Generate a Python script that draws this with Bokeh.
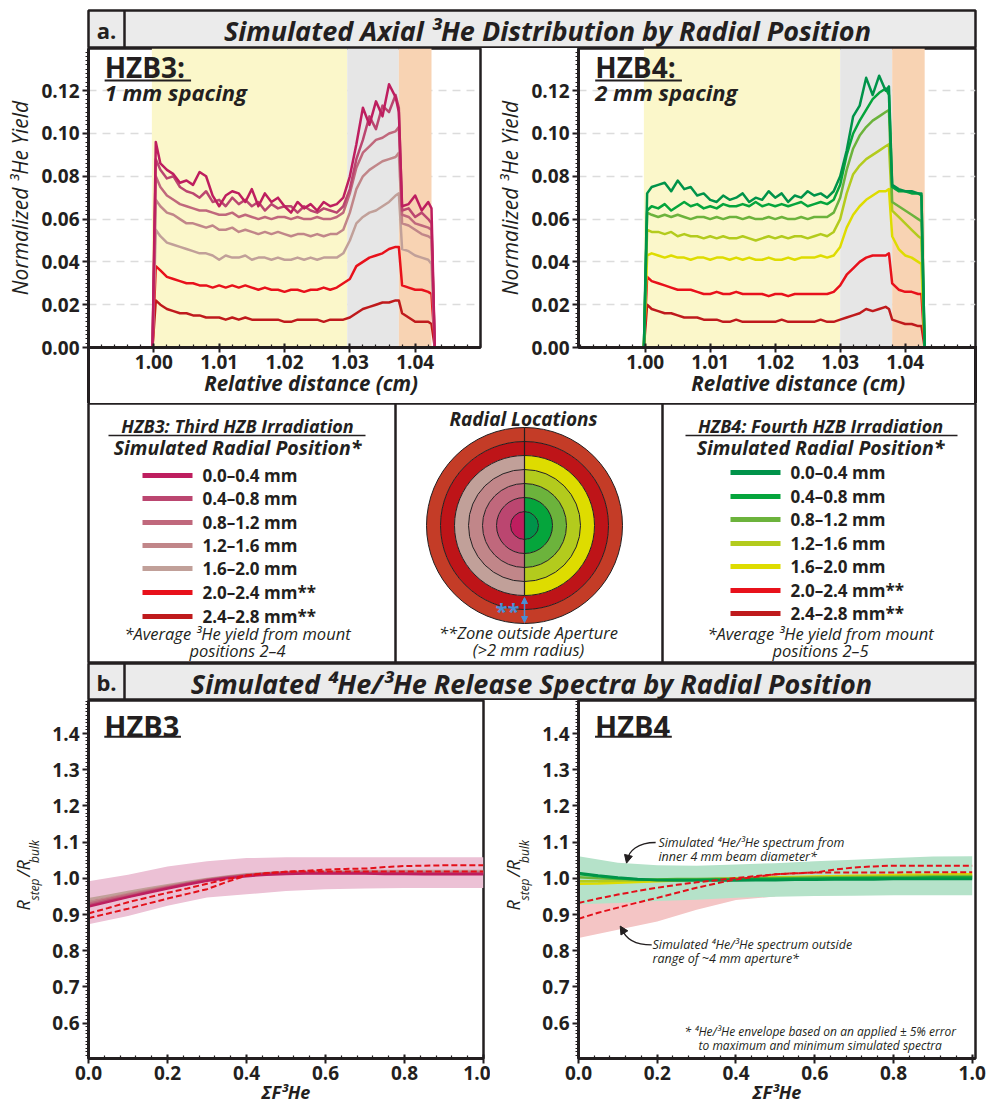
import math
from bokeh.plotting import figure
from bokeh.layouts import column, row
from bokeh.models import Range1d, FixedTicker, NumeralTickFormatter, Arrow, NormalHead, Title
from bokeh.core.properties import value
from bokeh.embed import file_html
from bokeh.resources import INLINE

FONT = "Open Sans"
INK = "#231F20"
NB = "\u00a0"

# ---------------- data: (a) axial 3He yield ----------------
x_axial = [0.9998, 1.0003, 1.001, 1.002, 1.003, 1.004, 1.005, 1.006, 1.007, 1.008, 1.009,
           1.010, 1.011, 1.012, 1.013, 1.014, 1.015, 1.016, 1.017, 1.018, 1.019, 1.020,
           1.021, 1.022, 1.023, 1.024, 1.025, 1.026, 1.027, 1.028, 1.029, 1.030, 1.031,
           1.032, 1.033, 1.034, 1.035, 1.036, 1.037, 1.0375, 1.038, 1.039, 1.040, 1.041,
           1.042, 1.0425, 1.043]

hzb3_00_04 = [0, 0.096, 0.086, 0.083, 0.081, 0.077, 0.078, 0.076, 0.082, 0.080, 0.071, 0.066, 0.071, 0.073, 0.072, 0.068, 0.074, 0.066, 0.072, 0.068, 0.070, 0.066, 0.063, 0.068, 0.065, 0.067, 0.064, 0.068, 0.066, 0.067, 0.070, 0.080, 0.095, 0.112, 0.104, 0.115, 0.108, 0.123, 0.117, 0.110, 0.066, 0.067, 0.071, 0.064, 0.068, 0.065, 0]
hzb3_04_08 = [0, 0.088, 0.083, 0.079, 0.080, 0.075, 0.073, 0.072, 0.070, 0.073, 0.068, 0.069, 0.066, 0.070, 0.067, 0.069, 0.066, 0.068, 0.064, 0.067, 0.065, 0.066, 0.066, 0.063, 0.066, 0.064, 0.063, 0.065, 0.064, 0.063, 0.066, 0.074, 0.088, 0.097, 0.108, 0.102, 0.113, 0.110, 0.118, 0.112, 0.064, 0.065, 0.061, 0.063, 0.060, 0.058, 0]
hzb3_08_12 = [0, 0.080, 0.075, 0.071, 0.069, 0.067, 0.066, 0.065, 0.064, 0.064, 0.063, 0.062, 0.062, 0.063, 0.061, 0.062, 0.061, 0.060, 0.061, 0.060, 0.061, 0.061, 0.060, 0.061, 0.060, 0.060, 0.061, 0.060, 0.060, 0.061, 0.063, 0.072, 0.084, 0.091, 0.094, 0.097, 0.098, 0.100, 0.101, 0.103, 0.062, 0.061, 0.058, 0.057, 0.056, 0.055, 0]
hzb3_12_16 = [0, 0.069, 0.066, 0.063, 0.062, 0.060, 0.058, 0.058, 0.057, 0.056, 0.057, 0.055, 0.055, 0.056, 0.054, 0.055, 0.054, 0.053, 0.054, 0.053, 0.054, 0.053, 0.052, 0.053, 0.053, 0.052, 0.053, 0.052, 0.053, 0.053, 0.055, 0.063, 0.074, 0.080, 0.083, 0.085, 0.087, 0.088, 0.089, 0.091, 0.058, 0.057, 0.055, 0.053, 0.052, 0.051, 0]
hzb3_16_20 = [0, 0.055, 0.052, 0.049, 0.048, 0.047, 0.046, 0.045, 0.044, 0.044, 0.043, 0.041, 0.043, 0.042, 0.042, 0.043, 0.041, 0.042, 0.042, 0.041, 0.042, 0.041, 0.041, 0.042, 0.041, 0.042, 0.041, 0.042, 0.042, 0.042, 0.044, 0.050, 0.058, 0.061, 0.063, 0.064, 0.066, 0.068, 0.071, 0.072, 0.046, 0.045, 0.043, 0.042, 0.041, 0.039, 0]
hzb3_20_24 = [0, 0.038, 0.036, 0.033, 0.032, 0.031, 0.030, 0.030, 0.029, 0.029, 0.028, 0.029, 0.028, 0.029, 0.028, 0.029, 0.028, 0.027, 0.028, 0.027, 0.027, 0.026, 0.027, 0.027, 0.026, 0.027, 0.027, 0.028, 0.027, 0.028, 0.030, 0.032, 0.038, 0.040, 0.042, 0.043, 0.044, 0.046, 0.047, 0.047, 0.029, 0.028, 0.027, 0.027, 0.026, 0.025, 0]
hzb3_24_28 = [0, 0.022, 0.020, 0.018, 0.017, 0.016, 0.016, 0.015, 0.015, 0.014, 0.014, 0.014, 0.013, 0.014, 0.013, 0.014, 0.013, 0.013, 0.013, 0.013, 0.013, 0.012, 0.012, 0.013, 0.013, 0.013, 0.013, 0.012, 0.013, 0.013, 0.013, 0.014, 0.016, 0.018, 0.019, 0.020, 0.021, 0.021, 0.022, 0.022, 0.016, 0.014, 0.012, 0.012, 0.012, 0.011, 0]

hzb4_00_04 = [0, 0.072, 0.075, 0.076, 0.077, 0.073, 0.078, 0.074, 0.075, 0.071, 0.072, 0.069, 0.068, 0.071, 0.069, 0.070, 0.072, 0.068, 0.070, 0.069, 0.073, 0.070, 0.072, 0.068, 0.071, 0.070, 0.073, 0.071, 0.072, 0.070, 0.073, 0.080, 0.092, 0.108, 0.113, 0.126, 0.118, 0.127, 0.120, 0.122, 0.076, 0.074, 0.073, 0.073, 0.072, 0.072, 0]
hzb4_04_08 = [0, 0.064, 0.066, 0.065, 0.067, 0.064, 0.066, 0.068, 0.066, 0.067, 0.065, 0.066, 0.065, 0.067, 0.066, 0.066, 0.067, 0.066, 0.068, 0.066, 0.067, 0.066, 0.067, 0.066, 0.067, 0.068, 0.066, 0.067, 0.068, 0.067, 0.069, 0.076, 0.090, 0.100, 0.106, 0.111, 0.116, 0.119, 0.121, 0.118, 0.075, 0.073, 0.073, 0.072, 0.072, 0.071, 0]
hzb4_08_12 = [0, 0.063, 0.062, 0.061, 0.062, 0.061, 0.062, 0.061, 0.060, 0.061, 0.061, 0.060, 0.061, 0.060, 0.061, 0.061, 0.060, 0.061, 0.060, 0.060, 0.061, 0.060, 0.061, 0.060, 0.060, 0.061, 0.060, 0.061, 0.061, 0.061, 0.063, 0.070, 0.083, 0.093, 0.099, 0.103, 0.106, 0.108, 0.110, 0.111, 0.068, 0.066, 0.064, 0.062, 0.060, 0.059, 0]
hzb4_12_16 = [0, 0.055, 0.054, 0.054, 0.053, 0.054, 0.052, 0.053, 0.052, 0.052, 0.051, 0.052, 0.051, 0.052, 0.051, 0.051, 0.052, 0.051, 0.050, 0.051, 0.052, 0.051, 0.052, 0.051, 0.052, 0.052, 0.051, 0.052, 0.053, 0.052, 0.054, 0.060, 0.072, 0.081, 0.085, 0.088, 0.090, 0.092, 0.094, 0.095, 0.064, 0.061, 0.058, 0.055, 0.052, 0.051, 0]
hzb4_16_20 = [0, 0.043, 0.044, 0.043, 0.042, 0.043, 0.042, 0.042, 0.041, 0.042, 0.042, 0.041, 0.042, 0.042, 0.041, 0.042, 0.041, 0.042, 0.041, 0.041, 0.042, 0.041, 0.041, 0.042, 0.041, 0.042, 0.042, 0.042, 0.043, 0.042, 0.043, 0.047, 0.056, 0.062, 0.066, 0.069, 0.071, 0.073, 0.073, 0.074, 0.052, 0.046, 0.043, 0.042, 0.040, 0.039, 0]
hzb4_20_24 = [0, 0.033, 0.031, 0.030, 0.029, 0.028, 0.027, 0.027, 0.027, 0.026, 0.025, 0.025, 0.026, 0.025, 0.025, 0.026, 0.025, 0.025, 0.025, 0.025, 0.024, 0.025, 0.025, 0.024, 0.025, 0.025, 0.025, 0.025, 0.025, 0.025, 0.026, 0.029, 0.034, 0.037, 0.040, 0.042, 0.043, 0.043, 0.043, 0.044, 0.030, 0.027, 0.026, 0.026, 0.025, 0.025, 0]
hzb4_24_28 = [0, 0.020, 0.018, 0.017, 0.016, 0.016, 0.015, 0.014, 0.014, 0.014, 0.013, 0.013, 0.013, 0.012, 0.012, 0.013, 0.012, 0.012, 0.012, 0.012, 0.012, 0.012, 0.013, 0.012, 0.012, 0.012, 0.012, 0.012, 0.013, 0.012, 0.012, 0.013, 0.014, 0.015, 0.016, 0.018, 0.017, 0.018, 0.019, 0.018, 0.013, 0.012, 0.011, 0.011, 0.010, 0.010, 0]

# zone edges (start of sample, start of gray zone, start of orange zone, end)
zones_hzb3 = [0.9997, 1.0296, 1.0375, 1.0425]
zones_hzb4 = [0.9998, 1.0300, 1.0380, 1.0430]

radial_labels = ["0.0–0.4 mm", "0.4–0.8 mm", "0.8–1.2 mm", "1.2–1.6 mm",
                 "1.6–2.0 mm", "2.0–2.4 mm**", "2.4–2.8 mm**"]
ring_radii_mm = [0.4, 0.8, 1.2, 1.6, 2.0, 2.4, 2.8]

colors_hzb3 = ["#BE1E5F", "#BB4670", "#C0687C", "#C18689", "#C1A099", "#E8111B", "#BF1A1C"]
colors_hzb4 = ["#00934A", "#05A53C", "#6CB33C", "#B3CB1D", "#DEDC00", "#E8111B", "#BF1A1C"]
ring_outer_colors = ["#BE1418", "#C43C27"]

axial_xticks = [1.00, 1.01, 1.02, 1.03, 1.04]
axial_yticks = [0.00, 0.02, 0.04, 0.06, 0.08, 0.10, 0.12]

# ---------------- data: (b) release spectra ----------------
f3he = [0.0, 0.05, 0.1, 0.15, 0.2, 0.25, 0.3, 0.35, 0.4, 0.45, 0.5, 0.55, 0.6, 0.65,
        0.7, 0.75, 0.8, 0.85, 0.9, 0.95, 1.0]
r3_00_04 = [0.922, 0.935, 0.948, 0.960, 0.972, 0.983, 0.993, 1.000, 1.006, 1.010, 1.012, 1.013, 1.013, 1.013, 1.013, 1.012, 1.012, 1.011, 1.011, 1.011, 1.011]
r3_04_08 = [0.925, 0.938, 0.950, 0.962, 0.974, 0.985, 0.995, 1.002, 1.008, 1.012, 1.014, 1.015, 1.015, 1.015, 1.015, 1.014, 1.014, 1.013, 1.013, 1.013, 1.013]
r3_08_12 = [0.930, 0.942, 0.954, 0.965, 0.976, 0.986, 0.996, 1.003, 1.009, 1.013, 1.015, 1.016, 1.016, 1.016, 1.016, 1.016, 1.015, 1.015, 1.015, 1.015, 1.015]
r3_12_16 = [0.935, 0.946, 0.957, 0.968, 0.978, 0.988, 0.997, 1.004, 1.010, 1.014, 1.016, 1.017, 1.017, 1.017, 1.018, 1.018, 1.018, 1.017, 1.017, 1.017, 1.017]
r3_16_20 = [0.942, 0.952, 0.962, 0.972, 0.981, 0.990, 0.998, 1.005, 1.011, 1.015, 1.017, 1.018, 1.019, 1.019, 1.020, 1.020, 1.020, 1.020, 1.020, 1.020, 1.020]
r3_20_24 = [0.903, 0.918, 0.934, 0.947, 0.960, 0.972, 0.985, 0.998, 1.008, 1.014, 1.018, 1.019, 1.019, 1.019, 1.019, 1.019, 1.019, 1.019, 1.019, 1.019, 1.019]
r3_24_28 = [0.890, 0.903, 0.916, 0.930, 0.944, 0.957, 0.970, 0.990, 1.008, 1.014, 1.018, 1.021, 1.024, 1.026, 1.027, 1.031, 1.034, 1.035, 1.036, 1.036, 1.036]

r4_00_04 = [1.015, 1.008, 1.002, 0.998, 0.995, 0.994, 0.994, 0.994, 0.994, 0.995, 0.995, 0.996, 0.996, 0.997, 0.997, 0.997, 0.998, 0.998, 0.998, 0.998, 0.998]
r4_04_08 = [1.012, 1.006, 1.000, 0.997, 0.996, 0.996, 0.996, 0.997, 0.997, 0.998, 0.998, 0.999, 0.999, 1.000, 1.000, 1.001, 1.001, 1.001, 1.002, 1.002, 1.002]
r4_08_12 = [1.003, 1.000, 0.998, 0.997, 0.997, 0.998, 0.998, 0.999, 0.999, 1.000, 1.001, 1.001, 1.002, 1.002, 1.003, 1.003, 1.004, 1.004, 1.005, 1.005, 1.005]
r4_12_16 = [0.992, 0.992, 0.993, 0.994, 0.995, 0.996, 0.997, 0.998, 0.999, 1.000, 1.001, 1.002, 1.003, 1.004, 1.005, 1.006, 1.006, 1.007, 1.007, 1.008, 1.008]
r4_16_20 = [0.985, 0.986, 0.988, 0.990, 0.992, 0.994, 0.996, 0.998, 1.000, 1.001, 1.003, 1.004, 1.005, 1.006, 1.007, 1.008, 1.009, 1.010, 1.010, 1.011, 1.011]
r4_20_24 = [0.932, 0.944, 0.955, 0.965, 0.974, 0.982, 0.989, 0.995, 1.001, 1.006, 1.011, 1.014, 1.016, 1.024, 1.030, 1.033, 1.035, 1.035, 1.035, 1.035, 1.035]
r4_24_28 = [0.888, 0.905, 0.919, 0.933, 0.946, 0.960, 0.974, 0.986, 0.997, 1.004, 1.011, 1.014, 1.016, 1.016, 1.016, 1.016, 1.016, 1.017, 1.017, 1.017, 1.017]

env_x = [0.0, 0.1, 0.2, 0.3, 0.4, 0.5, 0.6, 0.7, 0.8, 0.9, 1.0]
env3_hi = [0.992, 1.010, 1.033, 1.047, 1.056, 1.058, 1.058, 1.058, 1.058, 1.058, 1.058]
env3_lo = [0.873, 0.896, 0.924, 0.947, 0.956, 0.965, 0.970, 0.972, 0.973, 0.973, 0.973]
env4_hi = [1.061, 1.043, 1.036, 1.035, 1.038, 1.042, 1.047, 1.051, 1.056, 1.060, 1.061]
env4_lo = [0.928, 0.932, 0.937, 0.941, 0.946, 0.949, 0.951, 0.952, 0.953, 0.953, 0.953]
env4out_x = [0.0, 0.1, 0.2, 0.3, 0.4, 0.5]
env4out_hi = [0.950, 0.950, 0.950, 0.950, 0.952, 0.955]
env4out_lo = [0.835, 0.858, 0.881, 0.913, 0.940, 0.950]

spec_xticks = [0.0, 0.2, 0.4, 0.6, 0.8, 1.0]
spec_yticks = [0.6, 0.7, 0.8, 0.9, 1.0, 1.1, 1.2, 1.3, 1.4]

hzb3_series = [hzb3_00_04, hzb3_04_08, hzb3_08_12, hzb3_12_16, hzb3_16_20, hzb3_20_24, hzb3_24_28]
hzb4_series = [hzb4_00_04, hzb4_04_08, hzb4_08_12, hzb4_12_16, hzb4_16_20, hzb4_20_24, hzb4_24_28]
r3_series = [r3_00_04, r3_04_08, r3_08_12, r3_12_16, r3_16_20, r3_20_24, r3_24_28]
r4_series = [r4_00_04, r4_04_08, r4_08_12, r4_12_16, r4_16_20, r4_20_24, r4_24_28]
for s in hzb3_series + hzb4_series:
    assert len(s) == len(x_axial), len(s)
for s in r3_series + r4_series:
    assert len(s) == len(f3he), len(s)


# ---------------- helpers ----------------
def base_fig(w, h, xr, yr, bl, br, bt, bb, axes=True):
    kw = {} if axes else dict(x_axis_location=None, y_axis_location=None)
    p = figure(width=w, height=h, x_range=Range1d(*xr), y_range=Range1d(*yr),
               output_backend="svg", toolbar_location=None, title=None,
               min_border_left=bl, min_border_right=br, min_border_top=bt,
               min_border_bottom=bb, **kw)
    p.outline_line_color = INK
    p.outline_line_width = 2.5
    p.grid.visible = False
    p.background_fill_color = "white"
    p.border_fill_color = "white"
    return p


def T(p, x, y, s, size, style="normal", align="left", base="middle", color=INK, angle=0.0):
    p.text(x=[x], y=[y], text=[s], text_font=value(FONT), text_font_size=value(size),
           text_font_style=value(style), text_align=value(align),
           text_baseline=value(base), text_color=color, angle=angle)


def style_axes(p, xt, xm, xfmt, yt, ym, yfmt, xlabel, ylabel, tsize, xlsize, ylsize):
    xa, ya = p.xaxis[0], p.yaxis[0]
    xa.ticker = FixedTicker(ticks=xt, minor_ticks=xm)
    ya.ticker = FixedTicker(ticks=yt, minor_ticks=ym)
    xa.formatter = NumeralTickFormatter(format=xfmt)
    ya.formatter = NumeralTickFormatter(format=yfmt)
    for a in (xa, ya):
        a.axis_line_width = 3
        a.axis_line_color = INK
        a.major_tick_line_width = 2
        a.major_tick_line_color = INK
        a.minor_tick_line_width = 1.2
        a.minor_tick_line_color = INK
        a.major_label_text_font = FONT
        a.major_label_text_font_style = "bold"
        a.major_label_text_font_size = tsize
        a.major_label_text_color = INK
        a.axis_label_text_font = FONT
        a.axis_label_text_color = INK
    xa.major_tick_in = 4
    xa.major_tick_out = 5
    xa.minor_tick_in = 3
    xa.minor_tick_out = 0
    ya.major_tick_in = 0
    ya.major_tick_out = 6
    ya.minor_tick_in = 0
    ya.minor_tick_out = 3
    xa.major_label_standoff = 2
    xa.axis_label_standoff = -3
    ya.major_label_standoff = 3
    ya.axis_label_standoff = 4
    xa.axis_label = xlabel
    xa.axis_label_text_font_style = "bold italic"
    xa.axis_label_text_font_size = xlsize
    if ylabel:
        ya.axis_label = ylabel
        ya.axis_label_text_font_style = "italic"
        ya.axis_label_text_font_size = ylsize


# ---------------- header (a) ----------------
HA = base_fig(995, 48, (0, 887), (0, 38), 88, 20, 10, 0, axes=False)
HA.background_fill_color = "#EBEBEB"
HA.segment(x0=[36], y0=[0], x1=[36], y1=[38], line_color=INK, line_width=2.5)
T(HA, 18, 19, "a.", "22px", "bold", "center")
T(HA, 459, 18, "Simulated Axial ³He Distribution by Radial Position", "27px", "bold italic", "center")

# ---------------- axial plots ----------------
YTOP = 0.1397
ax_minor_x = [round(0.990 + 0.002 * i, 4) for i in range(31)]
ax_minor_y = [round(0.002 * i, 4) for i in range(70)]


def axial_plot(w, br, xr, zones, series, colors, tag, spacing, tag_x, ul_x1, edge_px, pad):
    p = base_fig(w, 355, xr, (0, YTOP), 88, br, 0, 56)
    p.border_fill_color = None
    # outer panel border continuing below the plot frame (drawn behind the transparent border)
    p.styles = {"background-image": "linear-gradient(#231F20, #231F20)",
                "background-size": "3px 58px",
                "background-position": f"{edge_px}px 298px",
                "background-repeat": "no-repeat"}
    style_axes(p, axial_xticks, ax_minor_x, "0.00", axial_yticks, ax_minor_y, "0.00",
               NB * pad + "Relative distance (cm)", "Normalized ³He Yield", "19px", "20.5px", "21px")
    p.ygrid.visible = True
    p.ygrid.ticker = FixedTicker(ticks=axial_yticks[1:])
    p.ygrid.grid_line_color = "#DCDCDC"
    p.ygrid.grid_line_width = 1.5
    p.ygrid.grid_line_dash = "8 6"
    p.quad(left=zones[:-1], right=zones[1:], bottom=0, top=YTOP,
           fill_color=["#FBF7CA", "#E6E6E6", "#F8D3B3"], line_color=None)
    for s, c in reversed(list(zip(series, colors))):
        p.line(x_axial, s, line_color=c, line_width=2.5, line_join="round")
    T(p, tag_x, 0.1312, tag, "28px", "bold")
    p.segment(x0=[tag_x], y0=[0.1247], x1=[ul_x1], y1=[0.1247], line_color=INK, line_width=2)
    T(p, tag_x, 0.1194, spacing, "22px", "bold italic")
    return p


P1 = axial_plot(490, 10, (0.9900, 1.0500), zones_hzb3, hzb3_series, colors_hzb3,
                "HZB3:", "1 mm spacing", 0.99247, 1.00570, 87, 10)
P2 = axial_plot(505, 20, (0.98974, 1.05082), zones_hzb4, hzb4_series, colors_hzb4,
                "HZB4:", "2 mm spacing", 0.99231, 1.00565, 484, 8)

# ---------------- legend row ----------------
LEG = base_fig(995, 260, (0, 887), (0, 260), 88, 20, 0, 0, axes=False)
LEG.segment(x0=[307, 574], y0=[0, 0], x1=[307, 574], y1=[260, 260], line_color=INK, line_width=2.5)


def legend_box(cx, title1, title2, ul, line_x0, rows, colors, foot2):
    T(LEG, cx, 238, title1, "18px", "bold italic", "center")
    LEG.segment(x0=[ul[0]], y0=[228], x1=[ul[1]], y1=[228], line_color=INK, line_width=1.3)
    T(LEG, cx, 216, title2, "19.5px", "bold italic", "center")
    LEG.segment(x0=[line_x0] * 7, y0=rows, x1=[line_x0 + 50] * 7, y1=rows,
                line_color=colors, line_width=5)
    LEG.text(x=[line_x0 + 60] * 7, y=rows, text=radial_labels, text_font=value(FONT),
             text_font_size=value("17px"), text_font_style=value("bold"),
             text_baseline=value("middle"), text_color=INK)
    T(LEG, cx, 30, "*Average ³He yield from mount", "16.5px", "italic", "center")
    T(LEG, cx, 13, foot2, "16.5px", "italic", "center")


legend_box(149, "HZB3: Third HZB Irradiation", "Simulated Radial Position*", (20, 277), 54,
           [188, 165, 141, 118, 95, 71, 47], colors_hzb3, "positions 2–4")
legend_box(732, "HZB4: Fourth HZB Irradiation", "Simulated Radial Position*", (597, 869), 642,
           [191, 167, 144, 120, 97, 73, 50], colors_hzb4, "positions 2–5")

# radial-location diagram
PX_PER_MM = 35.0
CX, CY = 436, 138
r_px = [r * PX_PER_MM for r in ring_radii_mm]
r_in = [0.0] + r_px[:-1]
LEG.annular_wedge(x=CX, y=CY, inner_radius=r_in[5:], outer_radius=r_px[5:],
                  start_angle=0, end_angle=2 * math.pi, fill_color=ring_outer_colors, line_color=None)
LEG.annular_wedge(x=CX, y=CY, inner_radius=r_in[:5], outer_radius=r_px[:5],
                  start_angle=math.pi / 2, end_angle=3 * math.pi / 2,
                  fill_color=colors_hzb3[:5], line_color=None)
LEG.annular_wedge(x=CX, y=CY, inner_radius=r_in[:5], outer_radius=r_px[:5],
                  start_angle=-math.pi / 2, end_angle=math.pi / 2,
                  fill_color=colors_hzb4[:5], line_color=None)
LEG.circle(x=[CX] * 7, y=[CY] * 7, radius=r_px, fill_color=None, line_color=INK, line_width=1)
LEG.segment(x0=[CX], y0=[CY + r_px[6]], x1=[CX], y1=[CY - r_px[4]], line_color=INK, line_width=1.2)
BLUE = "#4A8FD4"
LEG.add_layout(Arrow(start=NormalHead(size=6, fill_color=BLUE, line_color=BLUE),
                     end=NormalHead(size=6, fill_color=BLUE, line_color=BLUE),
                     x_start=CX, y_start=CY - r_px[4] - 2, x_end=CX, y_end=CY - r_px[6] + 1,
                     line_color=BLUE, line_width=1.5))
T(LEG, CX - 17, 54, "**", "22px", "bold", "center", color=BLUE)
T(LEG, 435, 245, "Radial Locations", "19px", "bold italic", "center")
T(LEG, 440, 31, "**Zone outside Aperture", "16.5px", "italic", "center")
T(LEG, 440, 14, "(>2 mm radius)", "16.5px", "italic", "center")

# ---------------- header (b) ----------------
HB = base_fig(995, 37, (0, 887), (0, 37), 88, 20, 0, 0, axes=False)
HB.background_fill_color = "#EBEBEB"
HB.segment(x0=[36], y0=[0], x1=[36], y1=[37], line_color=INK, line_width=2.5)
T(HB, 18, 18.5, "b.", "22px", "bold", "center")
T(HB, 443, 17.5, "Simulated ⁴He/³He Release Spectra by Radial Position", "27px", "bold italic", "center")

# ---------------- release spectra ----------------
YR = (0.502, 1.4915)
sp_minor_x = [round(0.04 * i, 3) for i in range(26)]
sp_minor_y = [round(0.5 + 0.01 * i, 3) for i in range(100)]


def spectra_plot(w, br, xend, tag, tag_x, ul_x1):
    p = base_fig(w, 406, (0, xend), YR, 88, br, 0, 46)
    style_axes(p, spec_xticks, sp_minor_x, "0.0", spec_yticks, sp_minor_y, "0.0",
               "ΣF³He", None, "19px", "18px", "17px")
    T(p, tag_x, 1.423, tag, "29px", "bold")
    p.segment(x0=[tag_x], y0=[1.391], x1=[ul_x1], y1=[1.391], line_color=INK, line_width=2)
    # y-axis label R_step / R_bulk built from two vertical title strips
    sub = Title(text="step" + NB * 5 + "bulk", align="left", offset=158, standoff=14,
                text_font=FONT, text_font_style="italic", text_font_size="12px",
                text_color=INK)
    main = Title(text="R" + NB * 5 + "/R", align="left", offset=148, standoff=-36,
                 text_font=FONT, text_font_style="italic", text_font_size="18px",
                 text_color=INK)
    p.add_layout(sub, "left")
    p.add_layout(main, "left")
    return p


P3 = spectra_plot(490, 7, 1.0, "HZB3", 0.040, 0.234)
P3.varea(x=env_x, y1=env3_lo, y2=env3_hi, fill_color="#ECC1D5")
for s, c in reversed(list(zip(r3_series[:5], colors_hzb3[:5]))):
    P3.line(f3he, s, line_color=c, line_width=2.5)
for s in r3_series[5:]:
    P3.line(f3he, s, line_color="#E3101A", line_width=2, line_dash="6 3")

P4 = spectra_plot(505, 20, 1.0084, "HZB4", 0.042, 0.237)
P4.varea(x=env4out_x, y1=env4out_lo, y2=env4out_hi, fill_color="#F4C5C5")
P4.varea(x=env_x, y1=env4_lo, y2=env4_hi, fill_color="#B5E2C9")
for s, c in reversed(list(zip(r4_series[:5], colors_hzb4[:5]))):
    P4.line(f3he, s, line_color=c, line_width=2.5)
for s in r4_series[5:]:
    P4.line(f3he, s, line_color="#E3101A", line_width=2, line_dash="6 3")

# annotations
P4.bezier(x0=[0.196, 0.186], y0=[1.099, 0.816], x1=[0.124, 0.110], y1=[1.050, 0.862],
          cx0=[0.150, 0.140], cy0=[1.099, 0.816], cx1=[0.127, 0.118], cy1=[1.075, 0.835],
          line_color=INK, line_width=1.3)
P4.add_layout(Arrow(end=NormalHead(size=8, fill_color=INK, line_color=INK),
                    x_start=0.126, y_start=1.060, x_end=0.122, y_end=1.042,
                    line_color=INK, line_width=1.3))
P4.add_layout(Arrow(end=NormalHead(size=8, fill_color=INK, line_color=INK),
                    x_start=0.116, y_start=0.850, x_end=0.106, y_end=0.868,
                    line_color=INK, line_width=1.3))
T(P4, 0.203, 1.099, "Simulated ⁴He/³He spectrum from", "12.5px", "italic")
T(P4, 0.203, 1.061, "inner 4 mm beam diameter*", "12.5px", "italic")
T(P4, 0.188, 0.816, "Simulated ⁴He/³He spectrum outside", "12.5px", "italic")
T(P4, 0.188, 0.779, "range of ~4 mm aperture*", "12.5px", "italic")
T(P4, 0.614, 0.577, "* ⁴He/³He envelope based on an applied ± 5% error", "12px", "italic", "center")
T(P4, 0.614, 0.539, "to maximum and minimum simulated spectra", "12px", "italic", "center")

layout = column(HA, row(P1, P2), LEG, HB, row(P3, P4))
open("out.html", "w").write(file_html(layout, INLINE))
